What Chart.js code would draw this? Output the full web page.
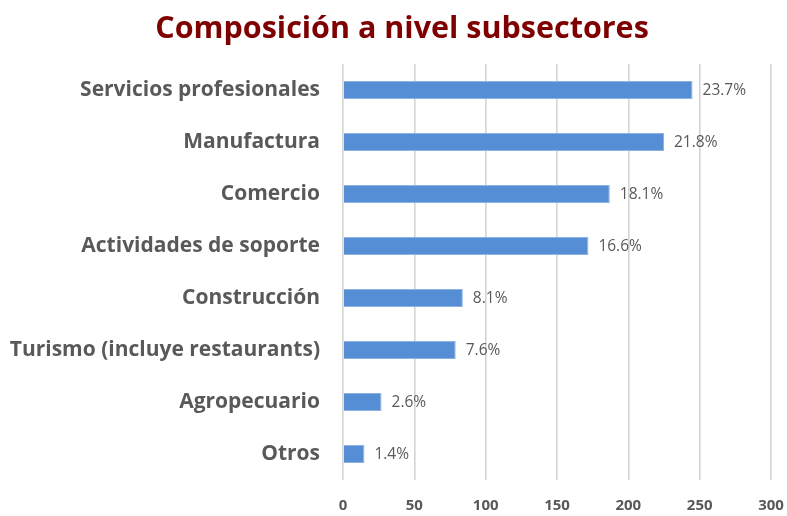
<!DOCTYPE html>
<html>
<head>
<meta charset="utf-8">
<script src="https://cdn.jsdelivr.net/npm/chart.js@4/dist/chart.umd.min.js"></script>
<style>
  html, body { margin: 0; padding: 0; background: #fff; }
  #wrap { width: 787px; height: 516px; position: relative; }
</style>
</head>
<body>
<div id="wrap"><canvas id="chart"></canvas></div>
<script>
// Subsector composition data
const chartTitle = 'Composición a nivel subsectores';
const categories = [
    'Servicios profesionales',
    'Manufactura',
    'Comercio',
    'Actividades de soporte',
    'Construcción',
    'Turismo (incluye restaurants)',
    'Agropecuario',
    'Otros'
];
const values = [245, 225, 187, 172, 84, 79, 27, 15];
const shareLabels = ['23.7%', '21.8%', '18.1%', '16.6%', '8.1%', '7.6%', '2.6%', '1.4%'];
const xTicks = [0, 50, 100, 150, 200, 250, 300];

// Title sits a bit right of the canvas centre, so draw it by hand
const titlePlugin = {
    id: 'titlePlugin',
    afterDraw(chart) {
        const ctx = chart.ctx;
        ctx.save();
        ctx.font = 'bold 30.5px "Open Sans"';
        ctx.fillStyle = '#7f0000';
        ctx.textAlign = 'center';
        ctx.textBaseline = 'middle';
        ctx.fillText(chartTitle, 402, 29);
        ctx.restore();
    }
};

// Draws the percentage next to each bar
const barLabels = {
    id: 'barLabels',
    afterDatasetsDraw(chart) {
        const ctx = chart.ctx;
        const meta = chart.getDatasetMeta(0);
        ctx.save();
        ctx.font = '15.5px "Open Sans"';
        ctx.fillStyle = '#595959';
        ctx.textAlign = 'left';
        ctx.textBaseline = 'middle';
        meta.data.forEach((bar, i) => {
            ctx.fillText(shareLabels[i], bar.x + 10, bar.y + 1);
        });
        ctx.restore();
    }
};

new Chart(document.getElementById('chart'), {
    type: 'bar',
    data: {
        labels: categories,
        datasets: [{
            data: values,
            backgroundColor: '#558ed5',
            borderColor: '#8db3e2',
            borderWidth: 1,
            barPercentage: 0.7,
            categoryPercentage: 0.5
        }]
    },
    options: {
        indexAxis: 'y',
        responsive: true,
        maintainAspectRatio: false,
        animation: false,
        layout: { padding: { left: 0, right: 16, top: 64, bottom: 0 } },
        plugins: {
            legend: { display: false },
            tooltip: { enabled: false },
            title: { display: false }
        },
        scales: {
            x: {
                min: 0,
                max: 300,
                afterBuildTicks(scale) {
                    scale.ticks = xTicks.map(v => ({ value: v }));
                },
                afterFit(scale) {
                    scale.height = 36;
                    scale.paddingRight = 0;
                },
                grid: { color: '#d4d4d4', lineWidth: 1.6, drawTicks: false },
                border: { display: false },
                ticks: {
                    color: '#595959',
                    font: { family: '"Open Sans"', size: 15, weight: 'bold' },
                    padding: 17,
                    maxRotation: 0
                }
            },
            y: {
                grid: { display: false },
                border: { display: false },
                afterFit(scale) {
                    scale.width = 343;
                    scale.paddingTop = 0;
                    scale.paddingBottom = 0;
                },
                ticks: {
                    color: '#595959',
                    font: { family: '"Open Sans"', size: 21, weight: 'bold' },
                    padding: 15
                }
            }
        }
    },
    plugins: [barLabels, titlePlugin]
});
</script>
</body>
</html>
